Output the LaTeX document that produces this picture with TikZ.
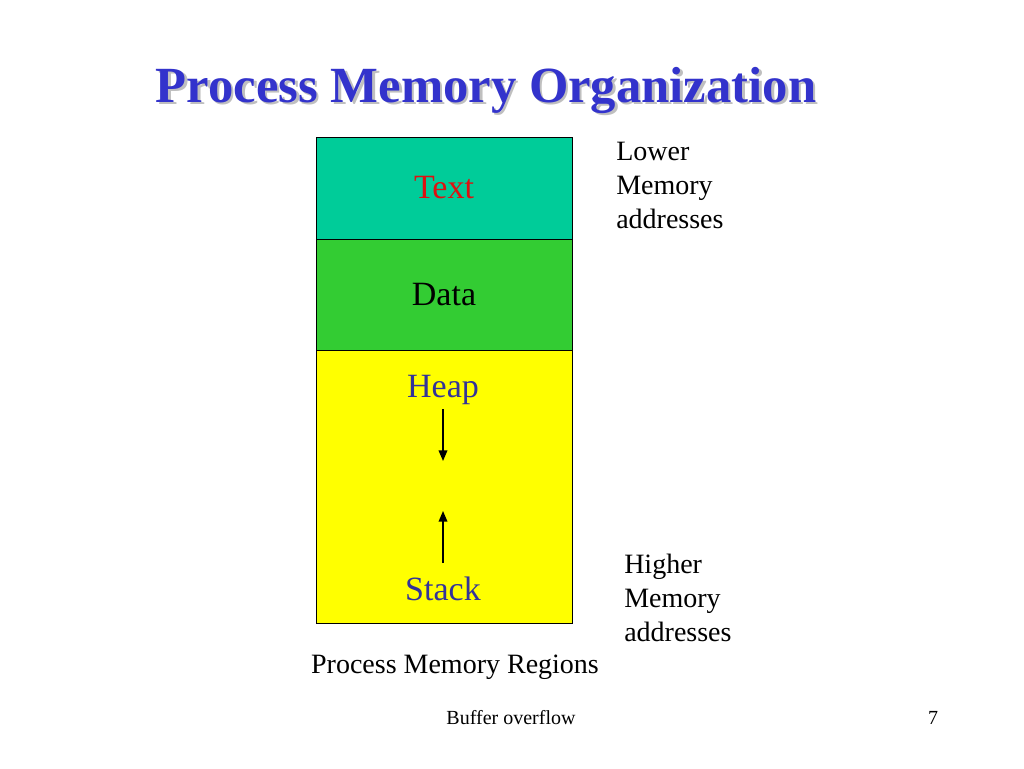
\documentclass[tikz,border=0pt]{standalone}
\usepackage{fontspec}
\setmainfont{Liberation Serif}
\usepackage{tikz}
\usetikzlibrary{arrows,arrows.meta,positioning}
\usepackage{xcolor}
\definecolor{mtitle}{HTML}{3333CC}
\definecolor{mteal}{HTML}{00CC99}
\definecolor{mgreen}{HTML}{33CC33}
\definecolor{myellow}{HTML}{FFFF00}
\definecolor{mred}{HTML}{DD1111}
\definecolor{mblue}{HTML}{333399}
\tikzstyle{region}=[rectangle, draw=black, line width=0.75pt, minimum width=192pt, inner sep=0pt, outer sep=0pt, font=\fontsize{25.5}{30}\selectfont]
\tikzstyle{lbl}=[anchor=base, inner sep=0pt, font=\fontsize{25.5}{30}\selectfont]
\tikzstyle{side}=[anchor=north west, inner sep=0pt, align=left, font=\fontsize{21}{25.5}\selectfont]
\tikzstyle{l1}=[line width=1.1pt]

\begin{document}
\begin{tikzpicture}[x=0.75pt, y=-0.75pt]
    \useasboundingbox[fill=white] (0,0) rectangle (1024,768);

    % title with its shadow
    \node (tshadow) [anchor=base, inner sep=0pt, text=black!25, font=\fontsize{38}{44}\selectfont\bfseries] at (488.5,104.5) {Process Memory Organization};
    \node (title) [anchor=base, inner sep=0pt, text=mtitle, font=\fontsize{38}{44}\selectfont\bfseries] at (486,102) {Process Memory Organization};

    % memory regions
    \node (text) [region, fill=mteal, text=mred, minimum height=76.5pt] at (444,188) {Text};
    \node (data) [region, fill=mgreen, minimum height=83.25pt, below=0pt of text] {Data};
    \node (free) [region, fill=myellow, minimum height=204.75pt, below=0pt of data] {};

    \node (heap) [lbl, text=mblue] at (443,397) {Heap};
    \node (stack) [lbl, text=mblue] at (443,600) {Stack};

    \coordinate (h1) at (443,409); \coordinate (h2) at (443,461);
    \coordinate (s1) at (443,563); \coordinate (s2) at (443,511);
    \draw[l1, -{Triangle[length=8pt, width=6.5pt]}] (h1) -- (h2);
    \draw[l1, -{Triangle[length=8pt, width=6.5pt]}] (s1) -- (s2);

    % side notes
    \node (lower) [side] at (616,142) {Lower\\Memory\\addresses};
    \node (higher) [side] at (624,554) {Higher\\Memory\\addresses};
    \node (caption) [anchor=base, inner sep=0pt, font=\fontsize{21}{25.5}\selectfont] at (455,673) {Process Memory Regions};

    % footer
    \node (footer) [anchor=base, inner sep=0pt, font=\fontsize{15}{18}\selectfont] at (511,724) {Buffer overflow};
    \node (page) [anchor=base, inner sep=0pt, font=\fontsize{15}{18}\selectfont] at (933,724) {7};
\end{tikzpicture}
\end{document}
